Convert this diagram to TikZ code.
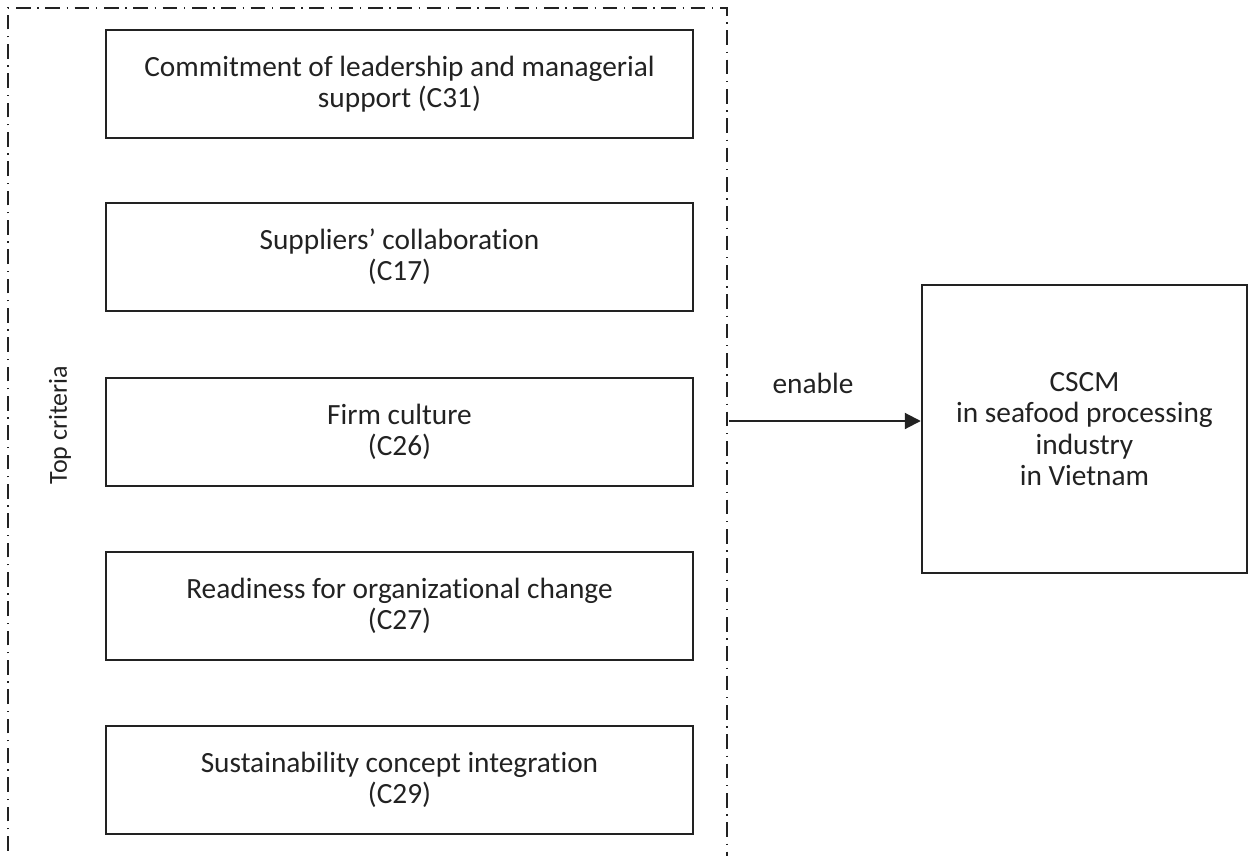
\documentclass[tikz,border=0pt]{standalone}
\usepackage{fontspec}
\setmainfont{Carlito}[Ligatures=NoCommon]
\usetikzlibrary{arrows.meta}
\definecolor{ink}{HTML}{222222}
\begin{document}
\begin{tikzpicture}[x=0.75pt,y=-0.75pt,
  font=\fontsize{22}{23.5}\selectfont, text=ink,
  crit/.style={draw=ink, line width=1.6pt, minimum width=440pt, minimum height=81pt,
               align=center, inner sep=0pt},
  goal/.style={draw=ink, line width=1.6pt, minimum width=244pt, minimum height=216pt,
               align=center, inner sep=0pt},
  frame/.style={draw=ink, line width=0.9pt, dash pattern=on 11pt off 5pt on 1pt off 5pt},
  link/.style={draw=ink, line width=1.5pt, -{Triangle[length=12pt,width=12pt]}}]
  \useasboundingbox (0,0) rectangle (1249,856);
  \clip (0,0) rectangle (1249,856);

  % group frame, open at the bottom
  \draw[frame] (8,880) -- (8,8) -- (727,8) -- (727,880);
  \node[rotate=90, font=\fontsize{19.5}{23}\selectfont] (label) at (60,425) {Top criteria};

  % criteria boxes
  \node[crit] (c31) at (399.5,84)  {Commitment of leadership and managerial\\support (C31)};
  \node[crit] (c17) at (399.5,257) {Suppliers’ collaboration\\(C17)};
  \node[crit] (c26) at (399.5,432) {Firm culture\\(C26)};
  \node[crit] (c27) at (399.5,606) {Readiness for organizational change\\(C27)};
  \node[crit] (c29) at (399.5,780) {Sustainability concept integration\\(C29)};

  % target box
  \node[goal] (cscm) at (1084.5,429) {CSCM\\in seafood processing\\industry\\in Vietnam};

  % enabling arrow
  \coordinate (src) at (729,421);
  \draw[link] (src) -- (src -| cscm.west);
  \node (enable) at (813,383) {enable};
\end{tikzpicture}
\end{document}
